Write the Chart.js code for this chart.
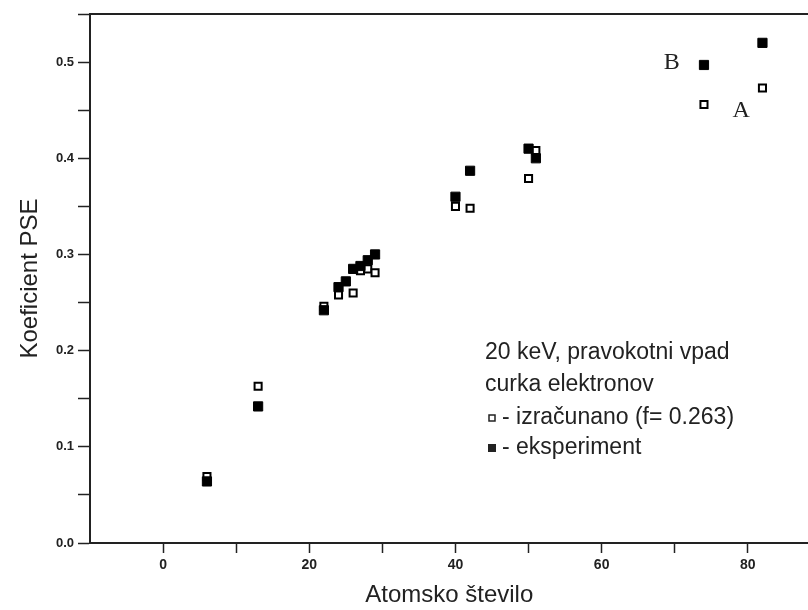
<!DOCTYPE html>
<html lang="sl">
<head>
  <meta charset="UTF-8" />
  <title>Koeficient PSE</title>
  <script src="https://cdn.jsdelivr.net/npm/chart.js@4.4.0/dist/chart.umd.min.js"></script>
  <style>
    html, body { margin: 0; padding: 0; background: #fff; overflow: hidden; }
    #wrap { width: 816px; height: 610px; position: relative; }
  </style>
</head>
<body>
  <div id="wrap"><canvas id="chart"></canvas></div>

<script>
  // podatki, odčitani s slike
  const zIzracun = [6, 13, 22, 24, 26, 27, 28, 29, 40, 42, 50, 51, 74, 82];
  const pseIzracun = [0.069, 0.163, 0.246, 0.258, 0.260, 0.283, 0.285, 0.281, 0.350, 0.348, 0.379, 0.408, 0.456, 0.473];

  const zEksperiment = [6, 13, 22, 24, 25, 26, 27, 28, 29, 40, 42, 50, 51, 74, 82];
  const pseEksperiment = [0.064, 0.142, 0.242, 0.266, 0.272, 0.285, 0.288, 0.294, 0.300, 0.360, 0.387, 0.410, 0.400, 0.497, 0.520];

  const xTicks = [0, 10, 20, 30, 40, 50, 60, 70, 80];
  const yTicks = [0, 0.05, 0.1, 0.15, 0.2, 0.25, 0.3, 0.35, 0.4, 0.45, 0.5, 0.55];
  const xLabels = [0, 20, 40, 60, 80];
  const yLabels = [0, 0.1, 0.2, 0.3, 0.4, 0.5];

  const legendLines = ['20 keV, pravokotni vpad', 'curka elektronov'];
  const legendSeries = ['- izračunano (f= 0.263)', '- eksperiment'];

  const toPoints = (xs, ys) => xs.map((x, i) => ({ x: x, y: ys[i] }));

  // okvir zgoraj + oznake A, B in legenda
  const extras = {
    id: 'extras',
    afterDraw(chart) {
      const { ctx, chartArea: ca, scales: { x, y } } = chart;
      ctx.save();
      ctx.strokeStyle = '#222';
      ctx.lineWidth = 2;
      ctx.beginPath();
      ctx.moveTo(ca.left - 1, ca.top);
      ctx.lineTo(ca.right, ca.top);
      ctx.stroke();

      ctx.fillStyle = '#222';
      ctx.font = '24px "Liberation Serif", serif';
      ctx.textAlign = 'center';
      ctx.textBaseline = 'middle';
      ctx.fillText('B', x.getPixelForValue(69.6), y.getPixelForValue(0.4995));
      ctx.fillText('A', x.getPixelForValue(79.1), y.getPixelForValue(0.449));

      // legenda
      const lx = ca.left + 395;
      const rows = [ca.top + 339, ca.top + 371, ca.top + 404, ca.top + 434];
      ctx.font = '23px "Liberation Sans", Arial, sans-serif';
      ctx.textAlign = 'left';
      ctx.fillText(legendLines[0], lx, rows[0]);
      ctx.fillText(legendLines[1], lx, rows[1]);

      ctx.lineWidth = 1.5;
      ctx.strokeRect(lx + 4, rows[2] - 3, 6, 6);
      ctx.fillRect(lx + 3, rows[3] - 4, 8, 8);
      ctx.fillText(legendSeries[0], lx + 17, rows[2]);
      ctx.fillText(legendSeries[1], lx + 17, rows[3]);
      ctx.restore();
    }
  };

  new Chart(document.getElementById('chart'), {
    type: 'scatter',
    data: {
      datasets: [
        {
          label: 'eksperiment',
          data: toPoints(zEksperiment, pseEksperiment),
          pointStyle: 'rect',
          pointRadius: 6.5,
          backgroundColor: '#000',
          borderColor: '#000',
          borderWidth: 1
        },
        {
          label: 'izračunano (f= 0.263)',
          data: toPoints(zIzracun, pseIzracun),
          pointStyle: 'rect',
          pointRadius: 5,
          backgroundColor: '#fff',
          borderColor: '#000',
          borderWidth: 2
        }
      ]
    },
    options: {
      responsive: true,
      maintainAspectRatio: false,
      animation: false,
      events: [],
      layout: { padding: { top: 14, right: 0, left: 0, bottom: 0 } },
      plugins: {
        legend: { display: false },
        tooltip: { enabled: false }
      },
      scales: {
        x: {
          type: 'linear',
          min: -10,
          max: 88.3,
          afterBuildTicks: s => { s.ticks = xTicks.map(v => ({ value: v })); },
          afterFit: s => { s.height = 67; s.paddingRight = 0; s.paddingLeft = 0; },
          grid: { drawOnChartArea: false, drawTicks: true, tickLength: 10, tickColor: '#222', tickWidth: 1.5 },
          border: { display: true, color: '#222', width: 2 },
          ticks: {
            padding: 4,
            color: '#222',
            font: { family: '"Liberation Sans", Arial, sans-serif', size: 14, weight: 'bold' },
            callback: v => xLabels.includes(v) ? String(v) : ''
          },
          title: {
            display: true,
            text: 'Atomsko število',
            color: '#222',
            font: { family: '"Liberation Sans", Arial, sans-serif', size: 24 },
            padding: { top: 0, bottom: 0 }
          }
        },
        y: {
          type: 'linear',
          min: 0,
          max: 0.55,
          afterBuildTicks: s => { s.ticks = yTicks.map(v => ({ value: v })); },
          afterFit: s => { s.width = 90; s.paddingTop = 0; s.paddingBottom = 0; },
          grid: { drawOnChartArea: false, drawTicks: true, tickLength: 12, tickColor: '#222', tickWidth: 1.5 },
          border: { display: true, color: '#222', width: 2 },
          ticks: {
            padding: 4,
            color: '#222',
            font: { family: '"Liberation Sans", Arial, sans-serif', size: 13, weight: 'bold' },
            callback: v => yLabels.some(l => Math.abs(l - v) < 1e-9) ? v.toFixed(1) : ''
          },
          title: {
            display: true,
            text: 'Koeficient PSE',
            color: '#222',
            font: { family: '"Liberation Sans", Arial, sans-serif', size: 24 },
            padding: { top: 16, bottom: 0 }
          }
        }
      }
    },
    plugins: [extras]
  });
</script>
</body>
</html>
